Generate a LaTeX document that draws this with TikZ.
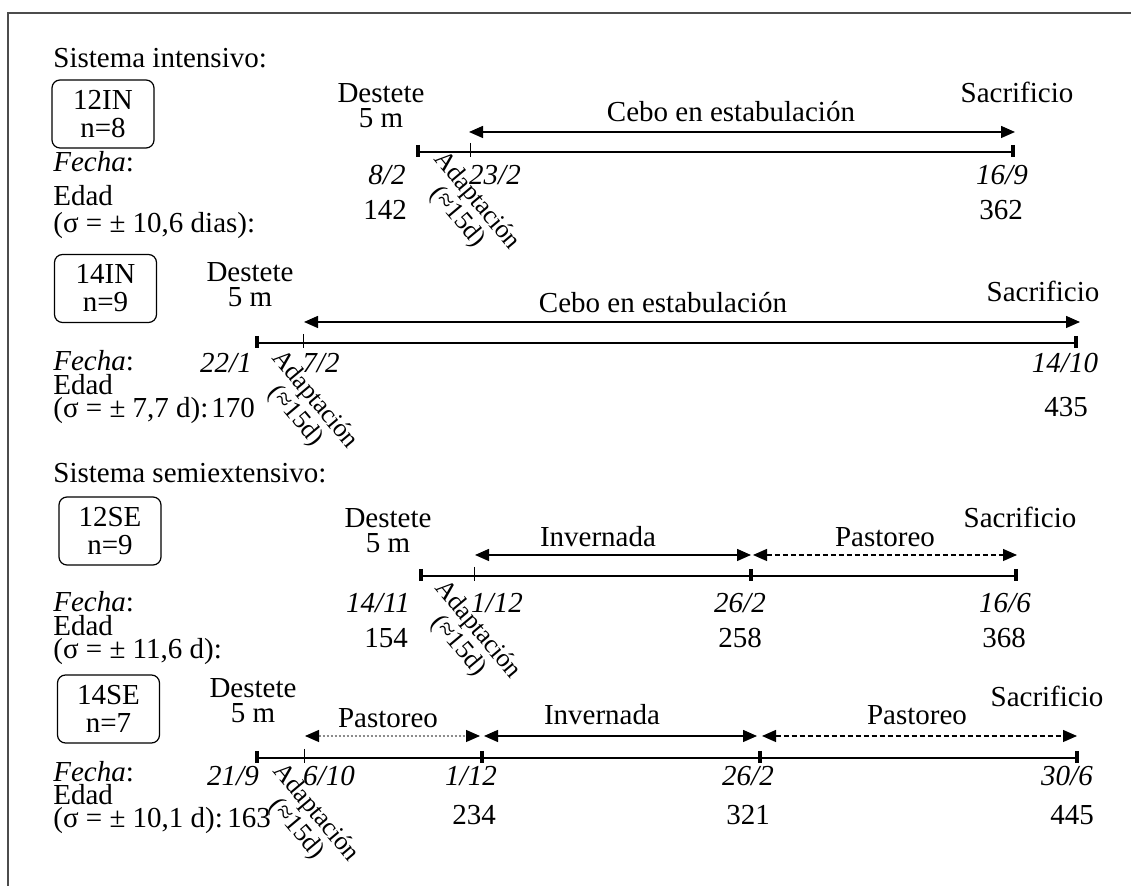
\documentclass[tikz,border=0pt]{standalone}
\usepackage{fontspec}
\setmainfont{Liberation Serif}
\usepackage{tikz}
\usetikzlibrary{arrows.meta}

\begin{document}
\begin{tikzpicture}[x=0.5pt, y=-0.5pt, >={Triangle[length=7pt,width=6pt]},
  every node/.style={inner sep=0pt, font=\fontsize{14.5}{14}\selectfont},
  lbl/.style={anchor=base},
  lft/.style={anchor=base west},
  grp/.style={draw, rounded corners=4pt, line width=0.6pt, minimum width=51pt, minimum height=34pt, align=center},
  two/.style={align=center, font=\fontsize{14.5}{12.5}\selectfont},
  adapt/.style={align=center, rotate=-50, font=\fontsize{13}{12.5}\selectfont},
  tline/.style={line width=1pt},
  bigtick/.style={line width=2.2pt},
  smalltick/.style={line width=0.5pt},
  span/.style={<->, line width=0.7pt},
  graze/.style={<->, line width=0.6pt, dash pattern=on 2.5pt off 1.5pt}]
\useasboundingbox (0,0) rectangle (1131,886);
\draw[line width=0.8pt, black!70] (1131,13) -- (8,13) -- (8,886);

% 12IN
\node[lft] (t1) at (53,68) {Sistema intensivo:};
\node[grp] (g1) at (103,114) {12IN\\n=8};
\node[lft] (f1) at (53,172) {\textit{Fecha}:};
\node[lft] (e1) at (53,206) {Edad};
\node[lft] (s1) at (53,233) {(σ = ± 10,6 dias):};
\coordinate (w1) at (418,152);
\coordinate (a1) at (470,152);
\coordinate (z1) at (1013,152);
\coordinate (c1a) at (469,132);
\coordinate (c1b) at (1015,132);
\draw[tline] (w1) -- (z1);
\draw[bigtick] (w1) +(0,-7) -- +(0,5);
\draw[smalltick] (a1) +(0,-9) -- +(0,5);
\draw[bigtick] (z1) +(0,-7) -- +(0,5);
\draw[span] (c1a) -- (c1b);
\node[two] (dst1) at (381,105.5) {Destete\\5 m};
\node[lbl] (sac1) at (1017,103) {Sacrificio};
\node[lbl] (cebo1) at (731,122) {Cebo en estabulación};
\node[lbl] (dw1) at (387,185) {\textit{8/2}};
\node[lbl] (da1) at (495,185) {\textit{23/2}};
\node[lbl] (dz1) at (1002,185) {\textit{16/9}};
\node[lbl] (nw1) at (385,220) {142};
\node[lbl] (nz1) at (1001,220) {362};
\node[adapt] (ad1) at (467,209) {Adaptación\\(≈15d)};

% 14IN
\node[grp] (g2) at (105.5,288.5) {14IN\\n=9};
\node[lft] (f2) at (53,371) {\textit{Fecha}:};
\node[lft] (e2) at (53,395) {Edad};
\node[lft] (s2) at (53,418) {(σ = ± 7,7 d):};
\coordinate (w2) at (257,343);
\coordinate (a2) at (303,343);
\coordinate (z2) at (1076,343);
\coordinate (c2a) at (304,322);
\coordinate (c2b) at (1080,322);
\draw[tline] (w2) -- (z2);
\draw[bigtick] (w2) +(0,-7) -- +(0,5);
\draw[smalltick] (a2) +(0,-9) -- +(0,5);
\draw[bigtick] (z2) +(0,-7) -- +(0,5);
\draw[span] (c2a) -- (c2b);
\node[two] (dst2) at (250,284.5) {Destete\\5 m};
\node[lbl] (sac2) at (1043,302) {Sacrificio};
\node[lbl] (cebo2) at (663,313) {Cebo en estabulación};
\node[lbl] (dw2) at (226,373) {\textit{22/1}};
\node[lbl] (da2) at (321,373) {\textit{7/2}};
\node[lbl] (dz2) at (1065,373) {\textit{14/10}};
\node[lbl] (nw2) at (233,418) {170};
\node[lbl] (nz2) at (1066,417) {435};
\node[adapt] (ad2) at (305,408) {Adaptación\\(≈15d)};

% 12SE
\node[lft] (t2) at (53,483) {Sistema semiextensivo:};
\node[grp] (g3) at (110,531) {12SE\\n=9};
\node[lft] (f3) at (53,612) {\textit{Fecha}:};
\node[lft] (e3) at (53,636) {Edad};
\node[lft] (s3) at (53,659) {(σ = ± 11,6 d):};
\coordinate (w3) at (421,576);
\coordinate (a3) at (474,576);
\coordinate (m3) at (751,576);
\coordinate (z3) at (1016,576);
\coordinate (i3a) at (475,555);
\coordinate (i3b) at (751,555);
\coordinate (p3a) at (753,555);
\coordinate (p3b) at (1017,555);
\draw[tline] (w3) -- (z3);
\draw[bigtick] (w3) +(0,-7) -- +(0,5);
\draw[smalltick] (a3) +(0,-9) -- +(0,5);
\draw[bigtick] (m3) +(0,-7) -- +(0,5);
\draw[bigtick] (z3) +(0,-7) -- +(0,5);
\draw[span] (i3a) -- (i3b);
\draw[graze] (p3a) -- (p3b);
\node[two] (dst3) at (388,530.5) {Destete\\5 m};
\node[lbl] (sac3) at (1020,528) {Sacrificio};
\node[lbl] (inv3) at (598,547) {Invernada};
\node[lbl] (pas3) at (885,547) {Pastoreo};
\node[lbl] (dw3) at (378,613) {\textit{14/11}};
\node[lbl] (da3) at (497,613) {\textit{1/12}};
\node[lbl] (dm3) at (740,613) {\textit{26/2}};
\node[lbl] (dz3) at (1005,613) {\textit{16/6}};
\node[lbl] (nw3) at (386,648) {154};
\node[lbl] (nm3) at (740,648) {258};
\node[lbl] (nz3) at (1004,648) {368};
\node[adapt] (ad3) at (468,638) {Adaptación\\(≈15d)};

% 14SE
\node[grp] (g4) at (108.5,709) {14SE\\n=7};
\node[lft] (f4) at (53,782) {\textit{Fecha}:};
\node[lft] (e4) at (53,805) {Edad};
\node[lft] (s4) at (53,828) {(σ = ± 10,1 d):};
\coordinate (w4) at (257,758);
\coordinate (a4) at (304,758);
\coordinate (m4) at (482,758);
\coordinate (n4) at (760,758);
\coordinate (z4) at (1077,758);
\coordinate (q4a) at (305,736);
\coordinate (q4b) at (480,736);
\coordinate (i4a) at (484,736);
\coordinate (i4b) at (757,736);
\coordinate (p4a) at (762,736);
\coordinate (p4b) at (1077,736);
\draw[tline] (w4) -- (z4);
\draw[bigtick] (w4) +(0,-7) -- +(0,5);
\draw[smalltick] (a4) +(0,-9) -- +(0,5);
\draw[bigtick] (m4) +(0,-7) -- +(0,5);
\draw[bigtick] (n4) +(0,-7) -- +(0,5);
\draw[bigtick] (z4) +(0,-7) -- +(0,5);
\draw[line width=0.6pt, black!45, dash pattern=on 1pt off 1pt,
  {Triangle[length=7pt,width=6pt,color=black]}-{Triangle[length=7pt,width=6pt,color=black]}] (q4a) -- (q4b);
\draw[span] (i4a) -- (i4b);
\draw[graze] (p4a) -- (p4b);
\node[two] (dst4) at (253,700.5) {Destete\\5 m};
\node[lbl] (sac4) at (1047,707) {Sacrificio};
\node[lbl] (pas4a) at (388,728) {Pastoreo};
\node[lbl] (inv4) at (602,725) {Invernada};
\node[lbl] (pas4b) at (917,725) {Pastoreo};
\node[lbl] (dw4) at (233,786) {\textit{21/9}};
\node[lbl] (da4) at (329,786) {\textit{6/10}};
\node[lbl] (dm4) at (471,786) {\textit{1/12}};
\node[lbl] (dn4) at (748,786) {\textit{26/2}};
\node[lbl] (dz4) at (1067,786) {\textit{30/6}};
\node[lbl] (nw4) at (249,828) {163};
\node[lbl] (nm4) at (474,825) {234};
\node[lbl] (nn4) at (748,825) {321};
\node[lbl] (nz4) at (1072,825) {445};
\node[adapt] (ad4) at (306,821) {Adaptación\\(≈15d)};
\end{tikzpicture}
\end{document}
